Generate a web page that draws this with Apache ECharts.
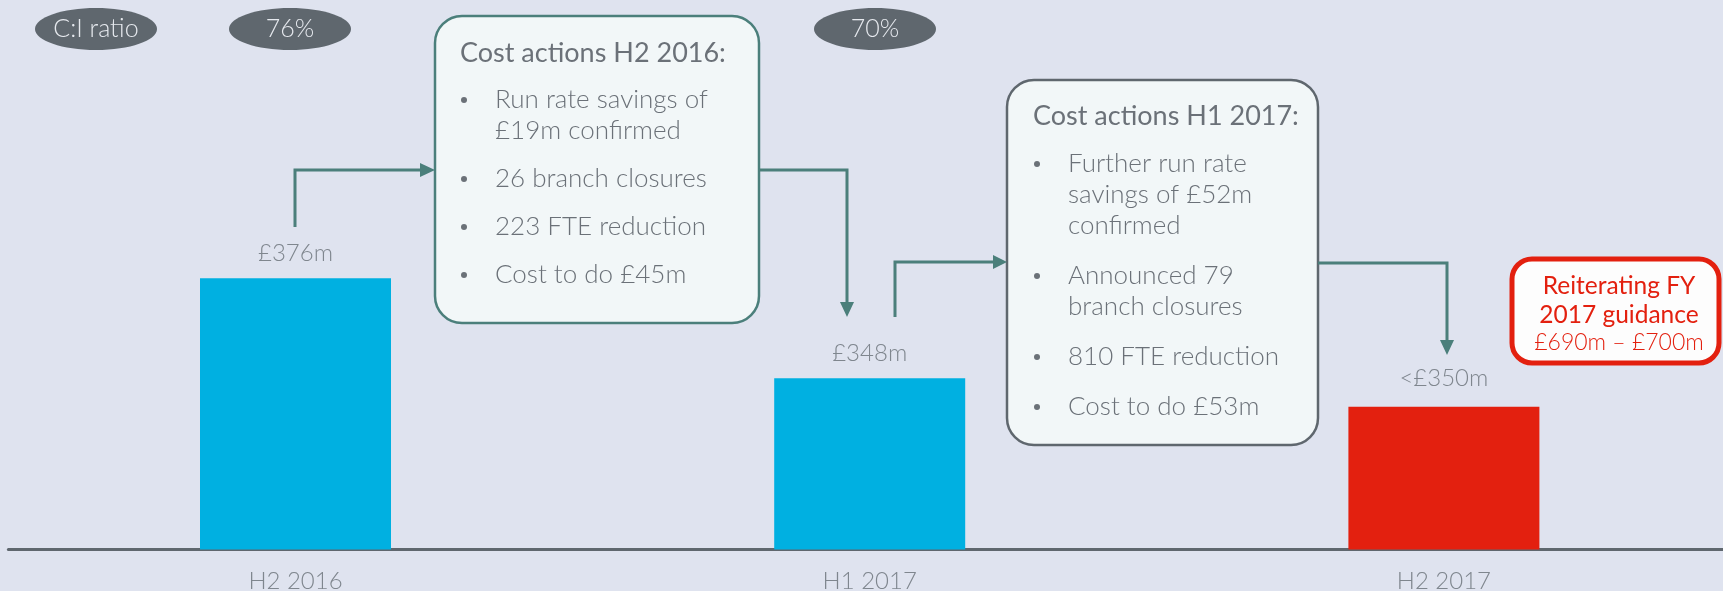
<!DOCTYPE html>
<html lang="en">
<head>
    <meta charset="UTF-8">
    <title>Cost actions</title>
    <script src="https://cdn.jsdelivr.net/npm/echarts@6/dist/echarts.min.js"></script>
    <style>
        html, body { margin: 0; padding: 0; background: #dfe3ef; overflow: hidden; }
    </style>
</head>
<body>
    <!-- a little wider than the window: the axis runs off the right edge like on the slide -->
    <div id="main" style="width:1732px;height:591px;"></div>

    <script>
        // data
        const categories = ['H2 2016', 'H1 2017', 'H2 2017'];
        const costValues = [376, 348, 340];
        const costLabels = ['£376m', '£348m', '<£350m'];
        const ratioLabels = ['C:I ratio', '76%', '70%'];
        const actionsH2Title = 'Cost actions H2 2016:';
        const actionsH2 = [['Run rate savings of', '£19m confirmed'], ['26 branch closures'], ['223 FTE reduction'], ['Cost to do £45m']];
        const actionsH1Title = 'Cost actions H1 2017:';
        const actionsH1 = [['Further run rate', 'savings of £52m', 'confirmed'], ['Announced 79', 'branch closures'], ['810 FTE reduction'], ['Cost to do £53m']];
        const guidance = ['Reiterating FY', '2017 guidance', '£690m – £700m'];

        const barColors = ['#00b0e1', '#00b0e1', '#e3200f'];
        const labelGaps = [13, 13, 16];
        const FONT = 'Lato';
        const TEXT_GREY = '#6b7178';
        const TEAL = '#4b7f7b';

        function txt(text, x, y, size, color, weight, align) {
            return {
                type: 'text',
                z: 10,
                style: {
                    text: text, x: x, y: y,
                    font: (weight || 300) + ' ' + size + 'px ' + FONT,
                    fill: color,
                    align: align || 'left', textAlign: align || 'left',
                    verticalAlign: 'middle', textVerticalAlign: 'middle'
                }
            };
        }

        // bullet list inside a box, each line placed by hand
        function bulletList(title, items, x, titleY, firstY, lineGap, itemGap) {
            const els = [txt(title, x, titleY, 27, TEXT_GREY, 400)];
            let y = firstY;
            items.forEach(function (lines) {
                els.push({ type: 'circle', z: 10, shape: { cx: x + 4, cy: y, r: 3 }, style: { fill: TEXT_GREY } });
                lines.forEach(function (l, i) {
                    els.push(txt(l, x + 35, y + i * lineGap, 26, TEXT_GREY));
                });
                y += (lines.length - 1) * lineGap + itemGap;
            });
            return els;
        }

        function arrow(points, head) {
            return [
                { type: 'polyline', z: 5, shape: { points: points }, style: { stroke: TEAL, lineWidth: 3, fill: null } },
                { type: 'polygon', z: 5, shape: { points: head }, style: { fill: TEAL } }
            ];
        }

        const pillPos = [[96, 61], [290, 61], [875, 61]];
        const pills = [];
        ratioLabels.forEach(function (t, i) {
            pills.push({ type: 'ellipse', shape: { cx: pillPos[i][0], cy: 29, rx: pillPos[i][1], ry: 21 }, style: { fill: '#5f676e' } });
            pills.push(txt(t, pillPos[i][0], 29, 25, '#e6e9ee', 300, 'center'));
        });

        let graphics = [].concat(
            pills,
            [
                { type: 'rect', z: 4, shape: { x: 435, y: 16, width: 324, height: 307, r: 27 }, style: { fill: '#f2f7f8', stroke: TEAL, lineWidth: 2.5 } },
                { type: 'rect', z: 4, shape: { x: 1007, y: 80, width: 311, height: 365, r: 27 }, style: { fill: '#f2f7f8', stroke: '#5f676e', lineWidth: 2.5 } },
                { type: 'rect', z: 4, shape: { x: 1512, y: 259, width: 207, height: 104, r: 20 }, style: { fill: '#fdfdfd', stroke: '#e3200f', lineWidth: 5 } }
            ],
            bulletList(actionsH2Title, actionsH2, 460, 53, 100, 31, 48),
            bulletList(actionsH1Title, actionsH1, 1033, 116, 164, 31, 50),
            [
                txt(guidance[0], 1619, 286, 24.5, '#e3200f', 400, 'center'),
                txt(guidance[1], 1619, 315, 24.5, '#e3200f', 400, 'center'),
                txt(guidance[2], 1619, 343, 23, '#e3200f', 300, 'center')
            ],
            arrow([[295, 227], [295, 170], [422, 170]], [[420, 163], [435, 170], [420, 177]]),
            arrow([[759, 170], [847, 170], [847, 303]], [[840, 302], [847, 317], [854, 302]]),
            arrow([[895, 317], [895, 262], [995, 262]], [[993, 255], [1007, 262], [993, 269]]),
            arrow([[1318, 263], [1447, 263], [1447, 341]], [[1440, 340], [1447, 355], [1454, 340]])
        );

        const option = {
            backgroundColor: '#dfe3ef',
            animation: false,
            // labels may run past the bottom edge, as on the slide
            grid: { left: 8.4, right: 1, top: 14, bottom: 41.5, outerBoundsMode: 'none' },
            xAxis: {
                type: 'category',
                data: categories,
                axisLine: { lineStyle: { color: '#5f676e', width: 3 } },
                axisTick: { show: false },
                axisLabel: { color: '#7f868e', fontSize: 24, fontFamily: FONT, fontWeight: 300, margin: 20 }
            },
            yAxis: {
                type: 'value',
                min: 300,
                max: 450,
                show: false,
                splitLine: { show: false }
            },
            series: [{
                type: 'bar',
                barWidth: 191,
                data: costValues.map(function (v, i) {
                    return { value: v, itemStyle: { color: barColors[i] }, label: { distance: labelGaps[i] } };
                }),
                label: {
                    show: true,
                    position: 'top',
                    color: '#7f868e',
                    fontSize: 24,
                    fontFamily: FONT,
                    fontWeight: 300,
                    formatter: function (p) { return costLabels[p.dataIndex]; }
                }
            }],
            graphic: { elements: graphics }
        };

        var myChart = echarts.init(document.getElementById('main'));
        myChart.setOption(option);
    </script>
</body>
</html>
